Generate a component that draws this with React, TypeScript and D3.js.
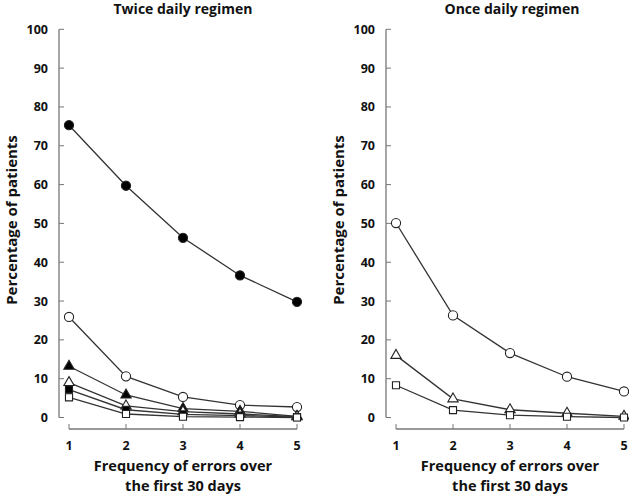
import React from "react";
import * as d3 from "d3";

const xValues = [1, 2, 3, 4, 5];
const yTicks = [0, 10, 20, 30, 40, 50, 60, 70, 80, 90, 100];

const twiceFilledCircle = [75.3, 59.7, 46.3, 36.6, 29.8];
const twiceOpenCircle = [25.9, 10.6, 5.3, 3.2, 2.7];
const twiceFilledTriangle = [13.2, 5.8, 2.3, 1.6, 0.3];
const twiceOpenTriangle = [9.0, 3.0, 1.5, 0.9, 0.2];
const twiceFilledSquare = [7.2, 2.0, 0.8, 0.5, 0.1];
const twiceOpenSquare = [5.2, 0.9, 0.2, 0.1, 0.0];

const onceOpenCircle = [50.1, 26.3, 16.6, 10.5, 6.7];
const onceOpenTriangle = [16.0, 4.8, 2.0, 1.1, 0.3];
const onceOpenSquare = [8.3, 1.9, 0.6, 0.2, 0.0];

type Series = { values: number[]; shape: "circle" | "triangle" | "square"; filled: boolean };

const twiceSeries: Series[] = [
  { values: twiceFilledCircle, shape: "circle", filled: true },
  { values: twiceOpenCircle, shape: "circle", filled: false },
  { values: twiceFilledTriangle, shape: "triangle", filled: true },
  { values: twiceOpenTriangle, shape: "triangle", filled: false },
  { values: twiceFilledSquare, shape: "square", filled: true },
  { values: twiceOpenSquare, shape: "square", filled: false },
];
const onceSeries: Series[] = [
  { values: onceOpenCircle, shape: "circle", filled: false },
  { values: onceOpenTriangle, shape: "triangle", filled: false },
  { values: onceOpenSquare, shape: "square", filled: false },
];

const FONT = "'Open Sans', Lato, sans-serif";
const LINE = "#333";
const AXIS = "#777";
const TEXT = "#111";

const symbolFor = (shape: string) => {
  if (shape === "circle") return d3.symbol(d3.symbolCircle, 66)();
  if (shape === "triangle") return d3.symbol(d3.symbolTriangle, 46)();
  return d3.symbol(d3.symbolSquare, 50)();
};

function Panel({ axisX, title, titleX, labelX, series }: { axisX: number; title: string; titleX: number; labelX: number; series: Series[] }) {
  const x = d3.scaleLinear().domain([1, 5]).range([axisX + 10, axisX + 238]);
  const y = d3.scaleLinear().domain([0, 100]).range([417.5, 29.3]);
  const line = d3
    .line<number>()
    .x((_, i) => x(xValues[i]))
    .y((v) => y(v));
  const xAxisY = 429;
  return (
    <g>
      <text x={titleX} y={14} textAnchor="middle" fontFamily={FONT} fontWeight="bold" fontSize={14} fill={TEXT}>
        {title}
      </text>
      <line x1={axisX} x2={axisX} y1={y(100)} y2={y(0)} stroke={AXIS} strokeWidth={1.3} />
      {yTicks.map((t) => (
        <g key={t}>
          <line x1={axisX} x2={axisX + 5} y1={y(t)} y2={y(t)} stroke={AXIS} strokeWidth={1} />
          <text x={axisX - 11} y={y(t)} dy="0.36em" textAnchor="end" fontFamily={FONT} fontWeight="bold" fontSize={12.5} fill={TEXT}>
            {t}
          </text>
        </g>
      ))}
      <text
        transform={`translate(${labelX},220) rotate(-90)`}
        textAnchor="middle"
        fontFamily={FONT}
        fontWeight="bold"
        fontSize={15}
        fill={TEXT}
        dy="0.32em"
      >
        Percentage of patients
      </text>
      <line x1={x(1)} x2={x(5)} y1={xAxisY} y2={xAxisY} stroke={AXIS} strokeWidth={1.3} />
      {xValues.map((v) => (
        <g key={v}>
          <line x1={x(v)} x2={x(v)} y1={xAxisY} y2={xAxisY - 5} stroke={AXIS} strokeWidth={1} />
          <text x={x(v)} y={450} textAnchor="middle" fontFamily={FONT} fontWeight="bold" fontSize={12.5} fill={TEXT}>
            {v}
          </text>
        </g>
      ))}
      <text x={(x(1) + x(5)) / 2} y={471} textAnchor="middle" fontFamily={FONT} fontWeight="bold" fontSize={14.5} fill={TEXT}>
        Frequency of errors over
      </text>
      <text x={(x(1) + x(5)) / 2} y={491} textAnchor="middle" fontFamily={FONT} fontWeight="bold" fontSize={14.5} fill={TEXT}>
        the first 30 days
      </text>
      {series.map((s, si) => (
        <g key={si}>
          <path d={line(s.values) || ""} fill="none" stroke={LINE} strokeWidth={1.3} />
          {s.values.map((v, i) => (
            <path
              key={i}
              d={symbolFor(s.shape) || ""}
              transform={`translate(${x(xValues[i])},${y(v)})`}
              fill={s.filled ? "#000" : "#fff"}
              stroke="#222"
              strokeWidth={1.1}
            />
          ))}
        </g>
      ))}
    </g>
  );
}

export default function App() {
  return (
    <svg width={629} height={496} style={{ position: "absolute", left: 0, top: 0, background: "#fff" }}>
      <rect width={629} height={496} fill="#fff" />
      <Panel axisX={59} title="Twice daily regimen" titleX={183} labelX={12} series={twiceSeries} />
      <Panel axisX={386} title="Once daily regimen" titleX={512} labelX={339} series={onceSeries} />
    </svg>
  );
}
